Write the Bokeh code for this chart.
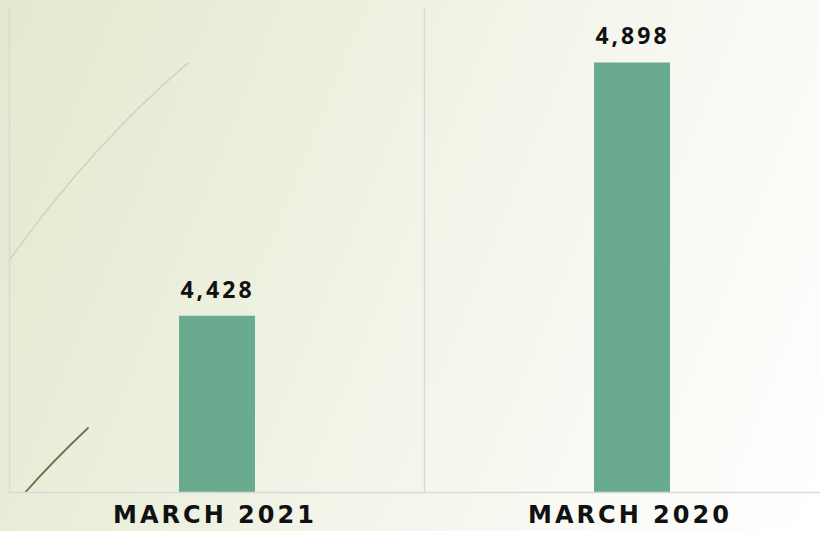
from bokeh.plotting import figure
from bokeh.models import Range1d, FixedTicker, ColumnDataSource, LabelSet
from bokeh.embed import file_html
from bokeh.resources import INLINE
from bokeh.core.properties import value

# ---- data ----
categories = ["MARCH 2021", "MARCH 2020"]
counts = [4428, 4898]
count_labels = ["4,428", "4,898"]

# ---- layout constants ----
W, H = 820, 531
LEFT, TOP, BOTTOM = 9, 7, 492
BAND_PX = 415
Y0, Y1 = 4100, 5000
x_end = (W - LEFT) / BAND_PX
positions = [i + 0.5 for i in range(len(categories))]
LS = 3  # letter spacing (px), inherited by all svg texts

source = ColumnDataSource(dict(x=positions, top=counts, label=count_labels))

p = figure(width=W, height=H, output_backend="svg", toolbar_location=None,
           x_range=Range1d(0, x_end), y_range=Range1d(Y0, Y1),
           min_border_left=LEFT, min_border_right=0, min_border_top=TOP,
           min_border_bottom=H - BOTTOM)

p.background_fill_alpha = 0
p.border_fill_alpha = 0
p.outline_line_color = None
p.styles = {"background": "linear-gradient(112deg, #e3e9cf 0%, #ebefdc 30%, #f4f6ec 58%, #ffffff 100%)",
            "letter-spacing": f"{LS}px"}

# decorative grass strands (screen px -> data)
def to_x(px):
    return (px - LEFT) / BAND_PX
def to_y(py):
    return Y0 + (BOTTOM - py) * (Y1 - Y0) / (BOTTOM - TOP)

p.quadratic(x0=[to_x(0)], y0=[to_y(272)], x1=[to_x(188)], y1=[to_y(62)],
            cx=[to_x(86)], cy=[to_y(149)], line_color="#cdd1bd", line_width=1.5)
p.quadratic(x0=[to_x(0)], y0=[to_y(522)], x1=[to_x(88)], y1=[to_y(427)],
            cx=[to_x(32)], cy=[to_y(480)], line_color="#766b55", line_width=1.8)

p.vbar(x="x", top="top", bottom=Y0, width=76 / BAND_PX, source=source,
       fill_color="#6aab8f", line_color=None)

labels = LabelSet(x="x", y="top", text="label", source=source,
                  text_align="center", text_baseline="alphabetic",
                  y_offset=18, x_offset=-7,
                  text_font=value("Noto Sans"), text_font_size="23px",
                  text_font_style="bold", text_color="#111111")
p.add_layout(labels)

# grid: category separator in the middle
p.ygrid.grid_line_color = None
p.xgrid.ticker = FixedTicker(ticks=[1])
p.xgrid.grid_line_color = "#d9d9d9"
p.xgrid.grid_line_width = 1.5

# y axis: only its line (left edge)
p.yaxis.ticker = FixedTicker(ticks=[])
p.yaxis.axis_line_color = "#d9d9d9"
p.yaxis.axis_line_width = 1.5
p.yaxis.major_tick_out = 0
p.yaxis.major_tick_in = 0
p.yaxis.minor_tick_out = 0
p.yaxis.minor_tick_in = 0
p.yaxis.major_label_standoff = 0

# x axis: baseline + category labels (ticks shifted to recentre letter-spaced text)
shift = (len(categories[0]) * LS / 2 + 2) / BAND_PX
tick_pos = [x - shift for x in positions]
p.xaxis.ticker = FixedTicker(ticks=tick_pos)
p.xaxis.major_label_overrides = {t: c for t, c in zip(tick_pos, categories)}
p.xaxis.axis_line_color = "#d9d9d9"
p.xaxis.axis_line_width = 1.5
p.xaxis.major_tick_line_color = None
p.xaxis.minor_tick_line_color = None
p.xaxis.major_tick_out = 0
p.xaxis.major_tick_in = 0
p.xaxis.minor_tick_out = 0
p.xaxis.major_label_standoff = 8
p.xaxis.major_label_text_font = "DejaVu Sans"
p.xaxis.major_label_text_font_size = "24px"
p.xaxis.major_label_text_font_style = "bold"
p.xaxis.major_label_text_color = "#111111"

open("out.html", "w").write(file_html(p, INLINE))
